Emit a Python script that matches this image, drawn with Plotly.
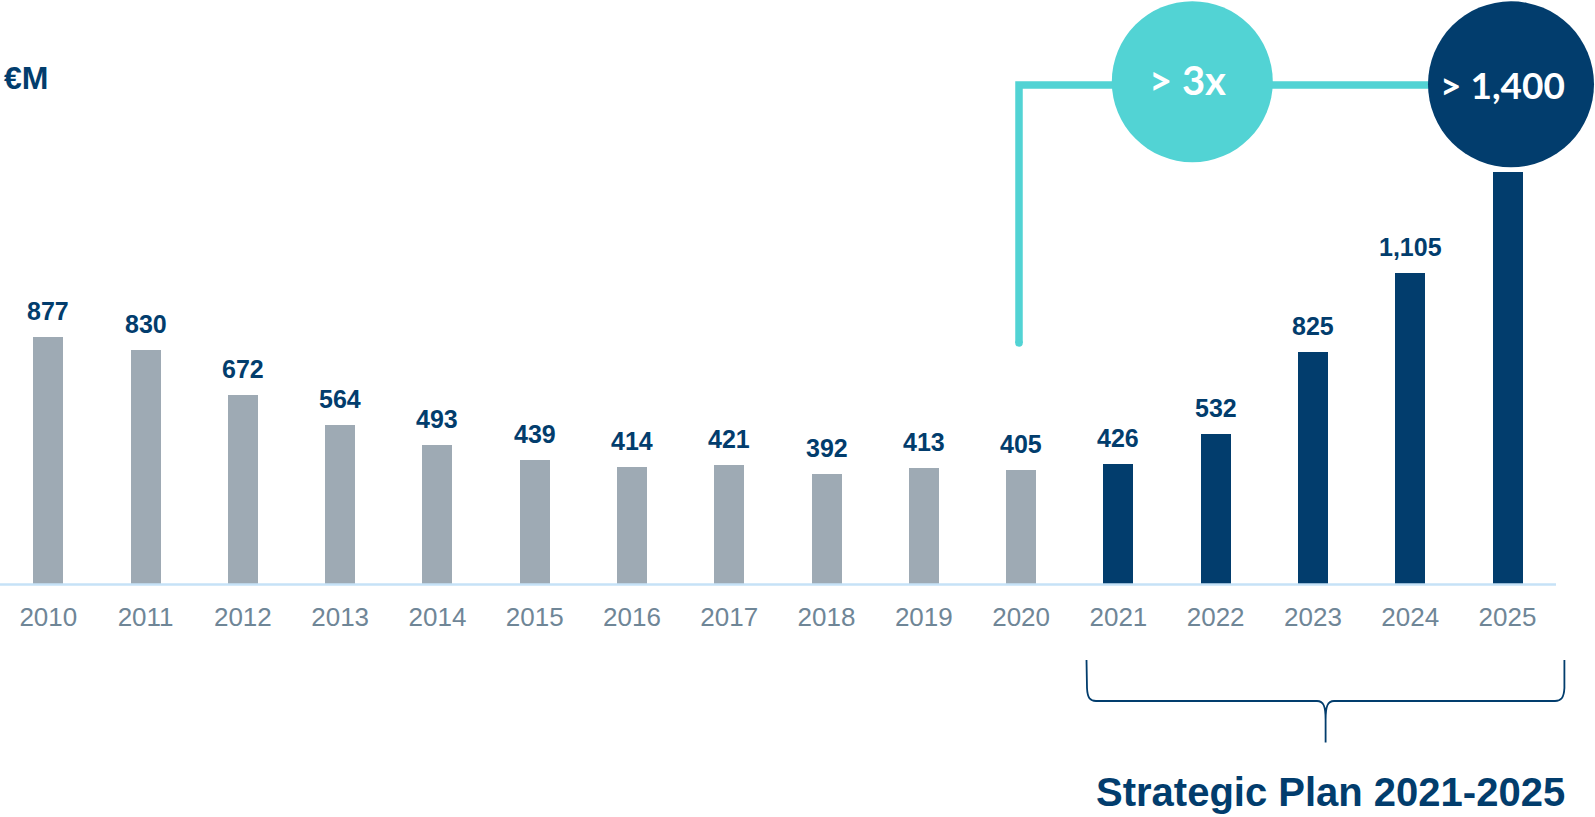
import plotly.graph_objects as go

# ---------------- data ----------------
years = list(range(2010, 2026))
values = [877, 830, 672, 564, 493, 439, 414, 421, 392, 413, 405, 426, 532, 825, 1105, 1465]
value_labels = ["877", "830", "672", "564", "493", "439", "414", "421", "392", "413",
                "405", "426", "532", "825", "1,105", ""]
plan_years = [2021, 2022, 2023, 2024, 2025]
unit_label = "€M"
growth_label = "> 3x"
target_label = "> 1,400"
plan_label = "Strategic Plan 2021-2025"

# ---------------- style ----------------
W, H = 1595, 817
NAVY = "#023d6d"
GRAY_BAR = "#9eaab4"
TEAL = "#52d3d4"
TICK_GRAY = "#6f8697"
AXIS_BLUE = "#c6e2f7"
BOLD = "Liberation Sans, Arial, sans-serif"
ROUND = "Lato, Open Sans, sans-serif"

PLOT_BOTTOM = 584          # pixel row of the baseline
PX_PER_UNIT = 0.2815
X0_PX, STEP_PX = 48.3, 97.28

def PX(x):
    return x / W

def PY(y):
    return (PLOT_BOTTOM - y) / PLOT_BOTTOM

colors = [NAVY if y in plan_years else GRAY_BAR for y in years]

fig = go.Figure()
fig.add_trace(go.Bar(
    x=years, y=values, width=30 / STEP_PX,
    marker=dict(color=colors, line=dict(width=0)),
    hoverinfo="skip", showlegend=False,
))

annotations = []
for yr, v, lab in zip(years, values, value_labels):
    if lab:
        annotations.append(dict(
            x=yr, y=v, xref="x", yref="y", text=f"<b>{lab}</b>", showarrow=False,
            yanchor="middle", xanchor="center", yshift=26,
            font=dict(family=BOLD, size=25, color=NAVY)))

# unit label
annotations.append(dict(x=PX(2), y=PY(77.5), xref="paper", yref="paper",
                        text=f"<b>{unit_label}</b>", showarrow=False,
                        xanchor="left", yanchor="middle",
                        font=dict(family=BOLD, size=32, color=NAVY)))
# circle texts
annotations.append(dict(x=PX(1187), y=PY(80), xref="paper", yref="paper",
                        text=growth_label, showarrow=False,
                        xanchor="center", yanchor="middle",
                        font=dict(family=ROUND, size=40, color="white", weight="bold")))
annotations.append(dict(x=PX(1502), y=PY(84), xref="paper", yref="paper",
                        text=target_label, showarrow=False,
                        xanchor="center", yanchor="middle",
                        font=dict(family=ROUND, size=37, color="white", weight="bold")))
# strategic plan label
annotations.append(dict(x=PX(1330), y=PY(792), xref="paper", yref="paper",
                        text=f"<b>{plan_label}</b>", showarrow=False,
                        xanchor="center", yanchor="middle",
                        font=dict(family=BOLD, size=40, color=NAVY)))

shapes = []
# baseline
shapes.append(dict(type="line", xref="paper", yref="paper",
                   x0=PX(0), x1=PX(1556), y0=PY(584.5), y1=PY(584.5),
                   line=dict(color=AXIS_BLUE, width=2.5), layer="above"))
# teal connector
path = (f"M {PX(1019)},{PY(343)} L {PX(1019)},{PY(85)} L {PX(1505)},{PY(85)}")
shapes.append(dict(type="path", xref="paper", yref="paper", path=path,
                   line=dict(color=TEAL, width=7.5), layer="above"))
shapes.append(dict(type="circle", xref="paper", yref="paper",
                   x0=PX(1015.25), x1=PX(1022.75), y0=PY(346.75), y1=PY(339.25),
                   fillcolor=TEAL, line=dict(width=0), layer="above"))
# circles
shapes.append(dict(type="circle", xref="paper", yref="paper",
                   x0=PX(1111.8), x1=PX(1272.8), y0=PY(162.2), y1=PY(1.2),
                   fillcolor=TEAL, line=dict(width=0), layer="above"))
shapes.append(dict(type="circle", xref="paper", yref="paper",
                   x0=PX(1428), x1=PX(1594), y0=PY(167.3), y1=PY(1.3),
                   fillcolor=NAVY, line=dict(width=0), layer="above"))
# bracket
pts = [
    ("M", [(1086.5, 660)]),
    ("L", [(1087, 688)]),
    ("C", [(1087.5, 698), (1090, 701), (1096, 701)]),
    ("L", [(1317, 701)]),
    ("C", [(1323.5, 701), (1325.6, 706), (1325.6, 720)]),
    ("L", [(1325.6, 742.5)]),
    ("L", [(1325.6, 720)]),
    ("C", [(1325.6, 706), (1327.7, 701), (1334, 701)]),
    ("L", [(1555, 701)]),
    ("C", [(1561, 701), (1563.9, 698), (1564.4, 688)]),
    ("L", [(1564.4, 660)]),
]
bpath = " ".join(cmd + " " + " ".join(f"{PX(x)},{PY(y)}" for x, y in p) for cmd, p in pts)
shapes.append(dict(type="path", xref="paper", yref="paper", path=bpath,
                   line=dict(color=NAVY, width=1.8), layer="above"))

x_lo = 2010 - X0_PX / STEP_PX
x_hi = 2010 + (W - X0_PX) / STEP_PX

fig.update_layout(
    width=W, height=H, autosize=False,
    margin=dict(l=0, r=0, t=0, b=H - PLOT_BOTTOM, pad=0),
    paper_bgcolor="white", plot_bgcolor="white",
    bargap=0,
    xaxis=dict(range=[x_lo, x_hi], tickvals=years, ticktext=[str(y) for y in years],
               showgrid=False, zeroline=False, showline=False, ticks="",
               tickfont=dict(family=BOLD, size=26, color=TICK_GRAY),
               ticklabelstandoff=15, fixedrange=True),
    yaxis=dict(range=[0, PLOT_BOTTOM / PX_PER_UNIT], visible=False, fixedrange=True),
    annotations=annotations, shapes=shapes,
)

fig.write_html("out.html", config={"displayModeBar": False},
               post_script="document.body.style.margin='0';")
